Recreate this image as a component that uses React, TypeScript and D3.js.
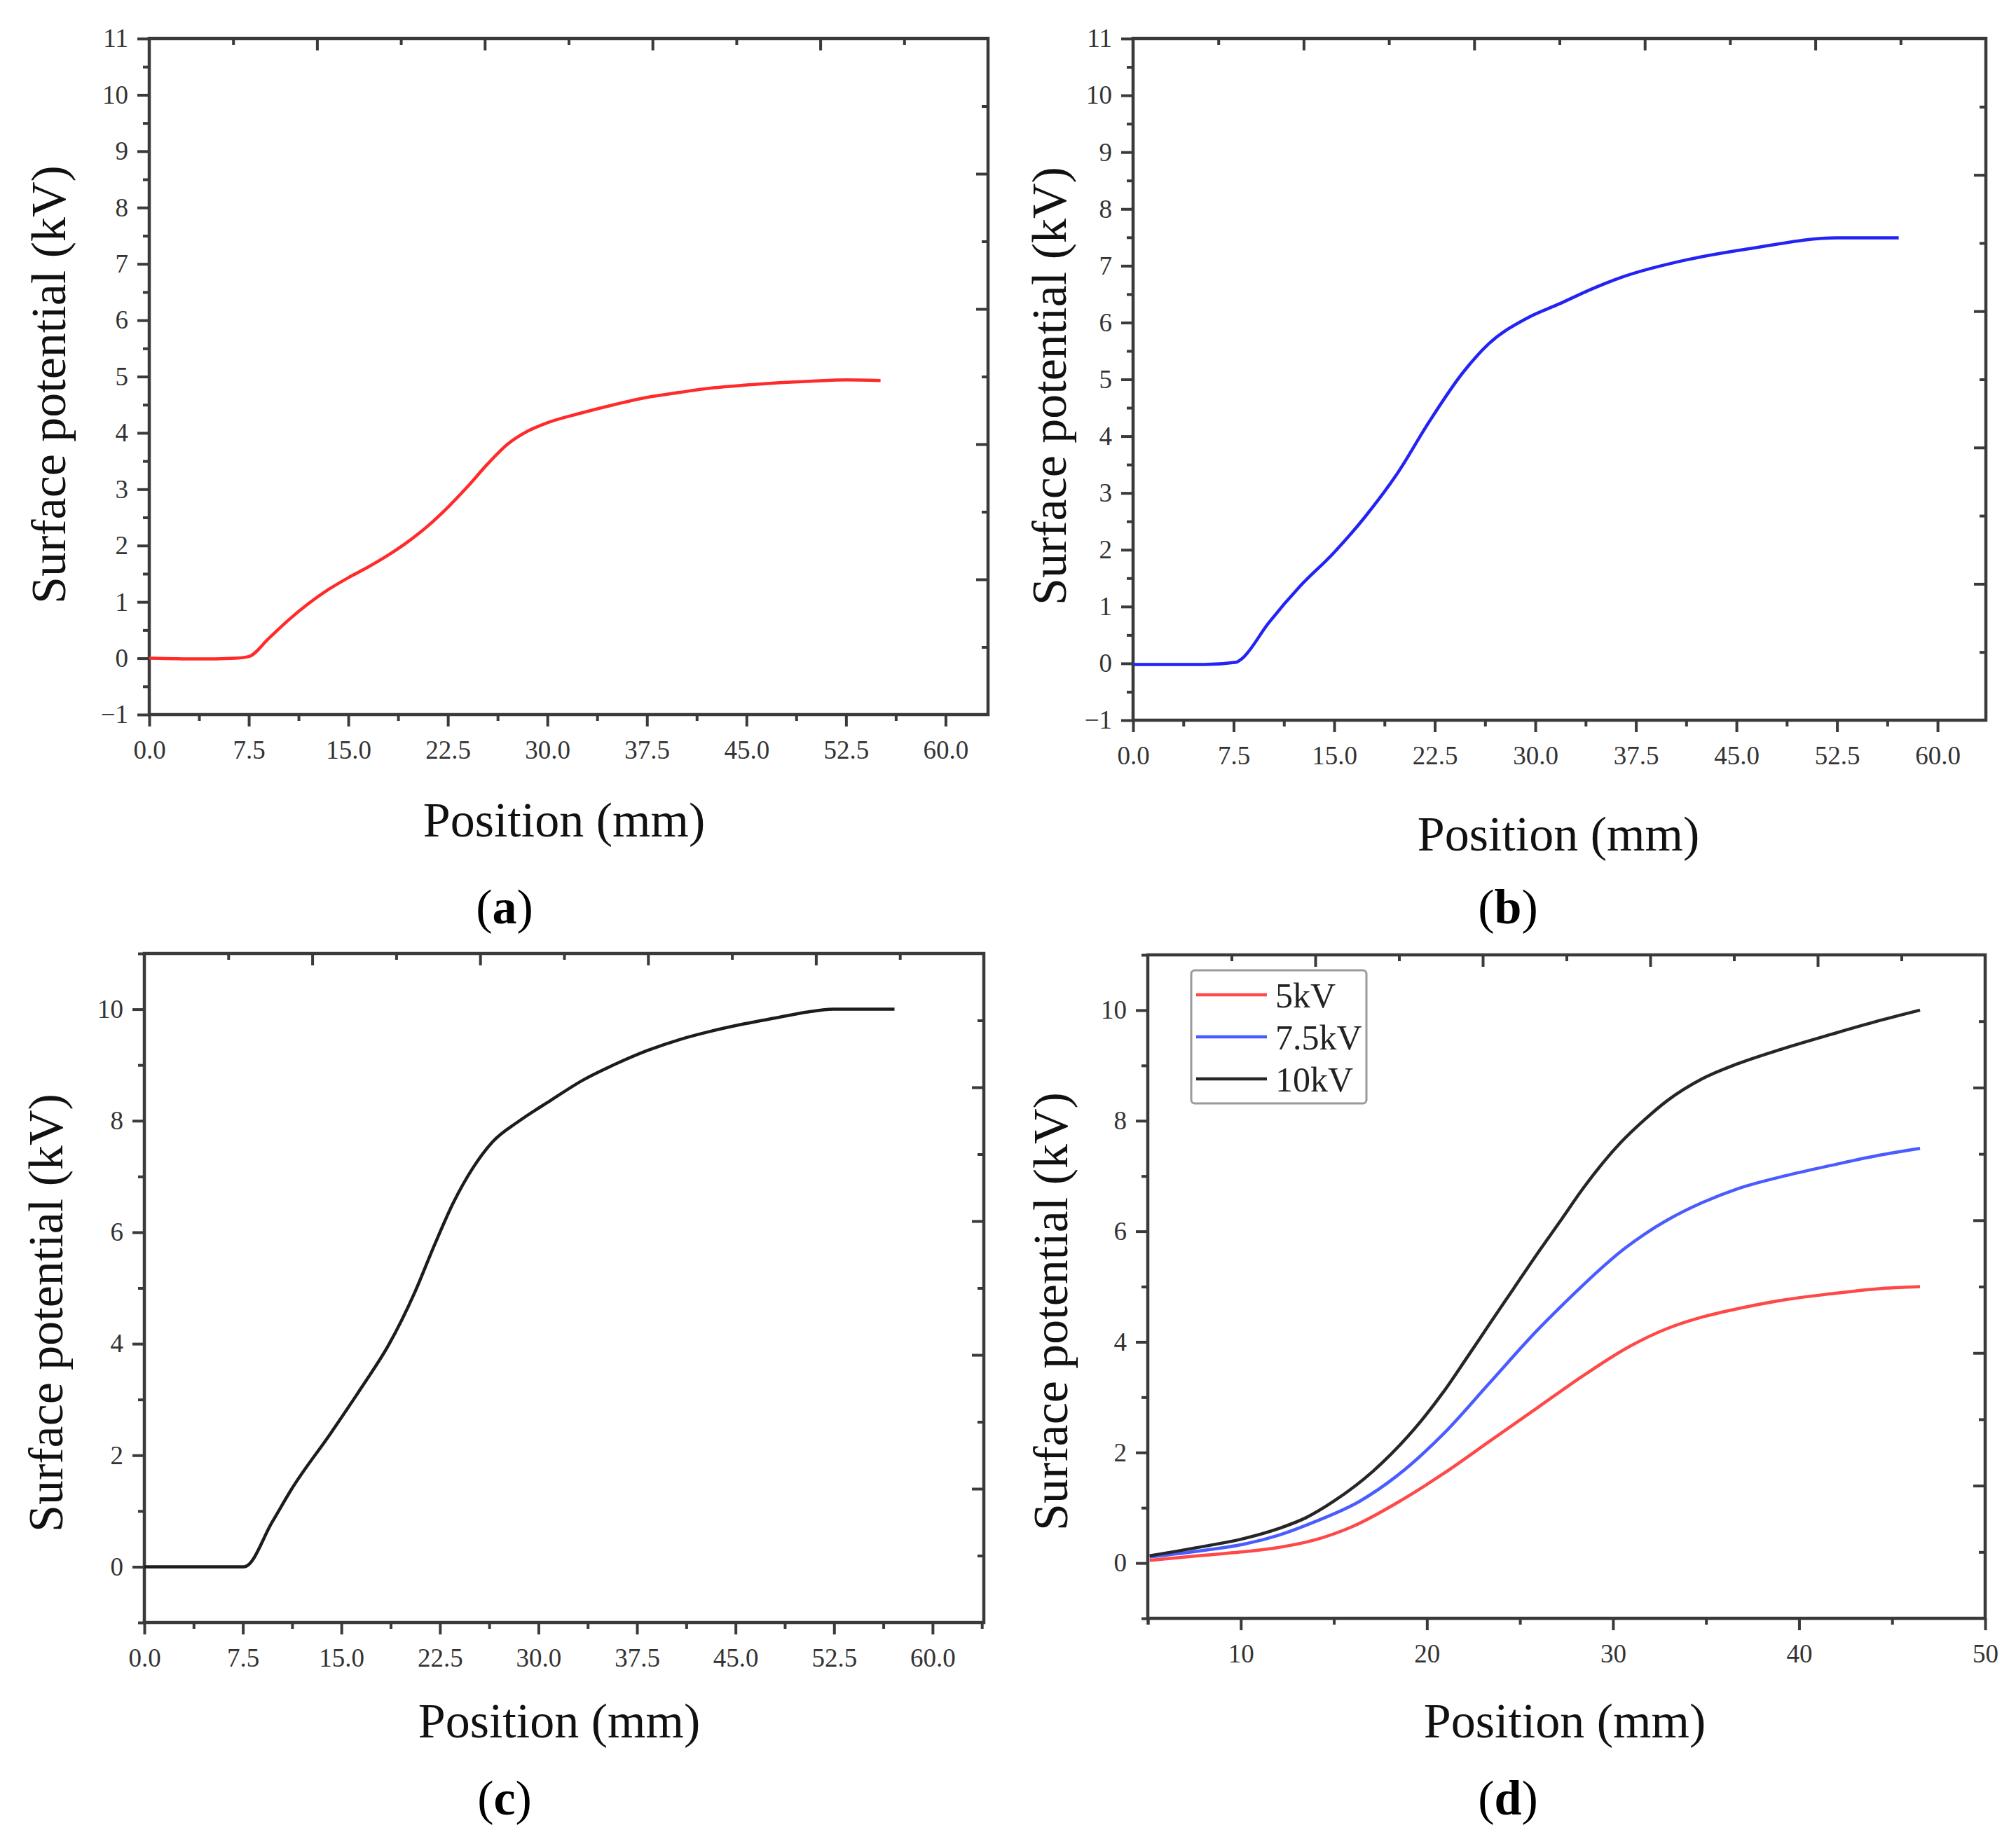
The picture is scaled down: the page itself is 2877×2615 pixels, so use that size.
import React, { useEffect, useRef } from "react";
import * as d3 from "d3";

// (a) 5 kV
const posA = [0, 2.5, 5, 6.5, 7.5, 9, 10.5, 12, 13.5, 15, 16.5, 18, 19.5, 21, 22.5, 24, 25.5, 27, 28.5, 30, 32.5, 35, 37.5, 40, 42.5, 45, 47.5, 50, 52.5, 55.1];
const potA = [0, -0.01, -0.01, 0.0, 0.03, 0.35, 0.68, 0.97, 1.22, 1.43, 1.62, 1.83, 2.07, 2.35, 2.68, 3.05, 3.45, 3.8, 4.03, 4.18, 4.35, 4.5, 4.63, 4.72, 4.8, 4.85, 4.89, 4.92, 4.94, 4.93];

// (b) 7.5 kV
const posB = [0, 5.3, 7.7, 8.1, 10.1, 12.5, 14.9, 17.3, 19.7, 22.1, 24.6, 26.5, 29.4, 31.8, 34.2, 36.6, 41.4, 46.2, 52.5, 57.1];
const potB = [-0.02, -0.02, 0.02, 0.08, 0.71, 1.37, 1.93, 2.58, 3.34, 4.26, 5.12, 5.62, 6.08, 6.33, 6.59, 6.81, 7.11, 7.31, 7.49, 7.49];

// (c) 10 kV
const posC = [0, 7.6, 9.75, 11.2, 14.2, 16.6, 18.6, 20.6, 22.1, 23.5, 25.0, 26.5, 28.5, 30.9, 33.4, 35.9, 38.3, 40.8, 43.2, 45.7, 48.2, 50.5, 52.4, 57.1];
const potC = [0, 0, 0.81, 1.39, 2.4, 3.24, 3.98, 4.93, 5.78, 6.52, 7.15, 7.62, 7.99, 8.36, 8.73, 9.02, 9.26, 9.46, 9.61, 9.74, 9.85, 9.95, 10.0, 10.0];

// (d) comparison
const posD5 = [5.1, 8, 10, 12, 14, 16, 18.6, 20.9, 23.4, 25.9, 28.4, 30.9, 32.9, 34.8, 36.7, 39.2, 41.7, 44.2, 46.5];
const pot5 = [0.05, 0.14, 0.2, 0.28, 0.42, 0.66, 1.13, 1.62, 2.21, 2.8, 3.39, 3.92, 4.24, 4.45, 4.6, 4.76, 4.87, 4.96, 5.0];
const posD75 = [5.1, 8, 10, 12, 14, 16.4, 18.4, 20.9, 23.4, 25.9, 27.2, 28.4, 29.2, 30.4, 31.7, 32.9, 34.8, 36.7, 39.2, 41.7, 44.2, 46.5];
const pot75 = [0.11, 0.23, 0.33, 0.5, 0.75, 1.12, 1.58, 2.34, 3.27, 4.2, 4.64, 5.03, 5.28, 5.63, 5.95, 6.2, 6.52, 6.77, 7.0, 7.19, 7.37, 7.5];
const posD10 = [5.1, 8, 10, 12, 13.5, 15, 17.1, 19, 20.9, 22.1, 23.4, 24.65, 25.9, 27.2, 28.4, 30.4, 31.7, 32.9, 34.8, 36.7, 39.2, 41.7, 44.2, 46.5];
const pot10 = [0.13, 0.3, 0.43, 0.62, 0.82, 1.12, 1.66, 2.3, 3.1, 3.69, 4.34, 4.96, 5.58, 6.2, 6.78, 7.6, 8.02, 8.36, 8.76, 9.03, 9.31, 9.56, 9.8, 10.0];
const legendD = ["5kV", "7.5kV", "10kV"];

// ticks
const xTicks75 = [0, 7.5, 15, 22.5, 30, 37.5, 45, 52.5, 60];
const xTicksD = [10, 20, 30, 40, 50];
const yTicks1 = [-1, 0, 1, 2, 3, 4, 5, 6, 7, 8, 9, 10, 11];
const yTicks2 = [0, 2, 4, 6, 8, 10];

const serif = "'Liberation Serif', 'Times New Roman', serif";
const axisColor = "#3a3a3a";
const labelColor = "#333";

function drawPanel(svg: any, p: any) {
  const x = d3.scaleLinear().domain(p.xDomain).range([p.left, p.right]);
  const y = d3.scaleLinear().domain([-1, 11]).range([p.bottom, p.top]);
  const g = svg.append("g");

  const styleAxis = (sel: any) => {
    sel.select(".domain").remove();
    sel.selectAll("line").attr("stroke", axisColor).attr("stroke-width", 4);
    sel.selectAll("text").attr("font-size", 37).attr("font-family", serif).attr("fill", labelColor);
  };

  // minor ticks halfway between majors
  const xMinor = d3.range(0, p.xDomain[1], p.xMajorStep)
    .map((v: number) => v + p.xMajorStep / 2)
    .concat([p.xDomain[0]])
    .filter((v: number) => v >= p.xDomain[0] - 1e-6 && v <= p.xDomain[1] + 1e-6 && !p.xMajor.includes(v));
  const yMinor = d3.range(-1, 11.01, p.yStep / 2).filter((v: number) => !p.yMajor.includes(v));

  g.append("g")
    .attr("transform", `translate(0,${p.bottom})`)
    .call(d3.axisBottom(x).tickValues(xMinor).tickSize(9).tickFormat(() => ""))
    .call(styleAxis);
  g.append("g")
    .attr("transform", `translate(0,${p.bottom})`)
    .call(d3.axisBottom(x).tickValues(p.xMajor).tickSize(17).tickPadding(20).tickFormat(p.xFormat))
    .call(styleAxis);
  g.append("g")
    .attr("transform", `translate(${p.left},0)`)
    .call(d3.axisLeft(y).tickValues(yMinor).tickSize(9).tickFormat(() => ""))
    .call(styleAxis);
  g.append("g")
    .attr("transform", `translate(${p.left},0)`)
    .call(d3.axisLeft(y).tickValues(p.yMajor).tickSize(17).tickPadding(13).tickFormat((d: any) => (d < 0 ? "\u2212" + Math.abs(d) : String(d))))
    .call(styleAxis);

  // mirrored top / right axes (own 0-5 scale, inward ticks)
  const xm = d3.scaleLinear().domain([0, 5]).range([p.left, p.right]);
  const ym = d3.scaleLinear().domain([0, 5]).range([p.top, p.bottom]);
  const half = [0.5, 1.5, 2.5, 3.5, 4.5];
  const whole = [1, 2, 3, 4];
  g.append("g").attr("transform", `translate(0,${p.top})`)
    .call(d3.axisTop(xm).tickValues(half).tickSize(-9).tickFormat(() => "")).call(styleAxis);
  g.append("g").attr("transform", `translate(0,${p.top})`)
    .call(d3.axisTop(xm).tickValues(whole).tickSize(-17).tickFormat(() => "")).call(styleAxis);
  g.append("g").attr("transform", `translate(${p.right},0)`)
    .call(d3.axisRight(ym).tickValues(half).tickSize(-9).tickFormat(() => "")).call(styleAxis);
  g.append("g").attr("transform", `translate(${p.right},0)`)
    .call(d3.axisRight(ym).tickValues(whole).tickSize(-17).tickFormat(() => "")).call(styleAxis);

  // frame
  g.append("rect")
    .attr("x", p.left).attr("y", p.top)
    .attr("width", p.right - p.left).attr("height", p.bottom - p.top)
    .attr("fill", "none").attr("stroke", axisColor).attr("stroke-width", 4.5);

  // curves
  p.series.forEach((s: any) => {
    const line = d3.line<number>()
      .x((_d, i) => x(s.xs[i]))
      .y((d) => y(d))
      .curve(d3.curveMonotoneX);
    g.append("path")
      .attr("d", line(s.ys))
      .attr("fill", "none")
      .attr("stroke", s.color)
      .attr("stroke-width", 4.5)
      .attr("stroke-linejoin", "round");
  });

  // legend
  if (p.legend) {
    const lg = g.append("g");
    lg.append("rect")
      .attr("x", 1700).attr("y", 1385).attr("width", 250).attr("height", 190)
      .attr("rx", 5).attr("fill", "white").attr("stroke", "#9a9a9a").attr("stroke-width", 3);
    p.series.forEach((s: any, i: number) => {
      const ly = 1420 + i * 60;
      lg.append("line").attr("x1", 1707).attr("x2", 1808).attr("y1", ly).attr("y2", ly)
        .attr("stroke", s.color).attr("stroke-width", 4.5);
      lg.append("text").attr("x", 1820).attr("y", ly + 18)
        .attr("font-family", serif).attr("font-size", 50).attr("fill", "#222")
        .text(s.name);
    });
  }

  // axis titles
  g.append("text")
    .attr("x", p.xTitle[0]).attr("y", p.xTitle[1])
    .attr("text-anchor", "middle").attr("font-family", serif).attr("font-size", 70).attr("fill", "#111")
    .text("Position (mm)");
  g.append("text")
    .attr("transform", `translate(${p.yTitle[0]},${p.yTitle[1]}) rotate(-90)`)
    .attr("text-anchor", "middle").attr("dy", "0.35em")
    .attr("font-family", serif).attr("font-size", 70).attr("fill", "#111")
    .text("Surface potential (kV)");

  // panel letter
  const t = g.append("text")
    .attr("x", p.tag[0]).attr("y", p.tag[1])
    .attr("text-anchor", "middle").attr("font-family", serif).attr("font-size", 70).attr("fill", "#000");
  t.append("tspan").text("(");
  t.append("tspan").attr("font-weight", "bold").text(p.letter);
  t.append("tspan").text(")");
}

export default function App() {
  const ref = useRef<SVGSVGElement | null>(null);

  useEffect(() => {
    const svg = d3.select(ref.current);
    svg.selectAll("*").remove();
    const fmt1 = d3.format(".1f");

    drawPanel(svg, {
      left: 213, right: 1410, top: 55, bottom: 1020,
      xDomain: [0, 63.2], xMajor: xTicks75, xMajorStep: 7.5, xFormat: fmt1,
      yMajor: yTicks1, yStep: 1,
      series: [{ xs: posA, ys: potA, color: "#ff2b2b" }],
      xTitle: [805, 1194], yTitle: [68, 549], tag: [720, 1318], letter: "a",
    });
    drawPanel(svg, {
      left: 1617, right: 2834, top: 55, bottom: 1028,
      xDomain: [0, 63.6], xMajor: xTicks75, xMajorStep: 7.5, xFormat: fmt1,
      yMajor: yTicks1, yStep: 1,
      series: [{ xs: posB, ys: potB, color: "#2323f5" }],
      xTitle: [2224, 1214], yTitle: [1496, 551], tag: [2152, 1318], letter: "b",
    });
    drawPanel(svg, {
      left: 206, right: 1404, top: 1361, bottom: 2316,
      xDomain: [0, 63.9], xMajor: xTicks75, xMajorStep: 7.5, xFormat: fmt1,
      yMajor: yTicks2, yStep: 2,
      series: [{ xs: posC, ys: potC, color: "#1c1c1c" }],
      xTitle: [798, 2480], yTitle: [64, 1874], tag: [720, 2590], letter: "c",
    });
    drawPanel(svg, {
      left: 1638, right: 2833, top: 1363, bottom: 2310,
      xDomain: [5, 50], xMajor: xTicksD, xMajorStep: 10, xFormat: d3.format("d"),
      yMajor: yTicks2, yStep: 2,
      series: [
        { xs: posD5, ys: pot5, color: "#ff4848", name: legendD[0] },
        { xs: posD75, ys: pot75, color: "#4a5cff", name: legendD[1] },
        { xs: posD10, ys: pot10, color: "#262626", name: legendD[2] },
      ],
      legend: true,
      xTitle: [2233, 2480], yTitle: [1498, 1872], tag: [2152, 2590], letter: "d",
    });
  }, []);

  return (
    <svg
      ref={ref}
      width={2877}
      height={2615}
      style={{ position: "absolute", left: 0, top: 0, background: "white" }}
    />
  );
}
